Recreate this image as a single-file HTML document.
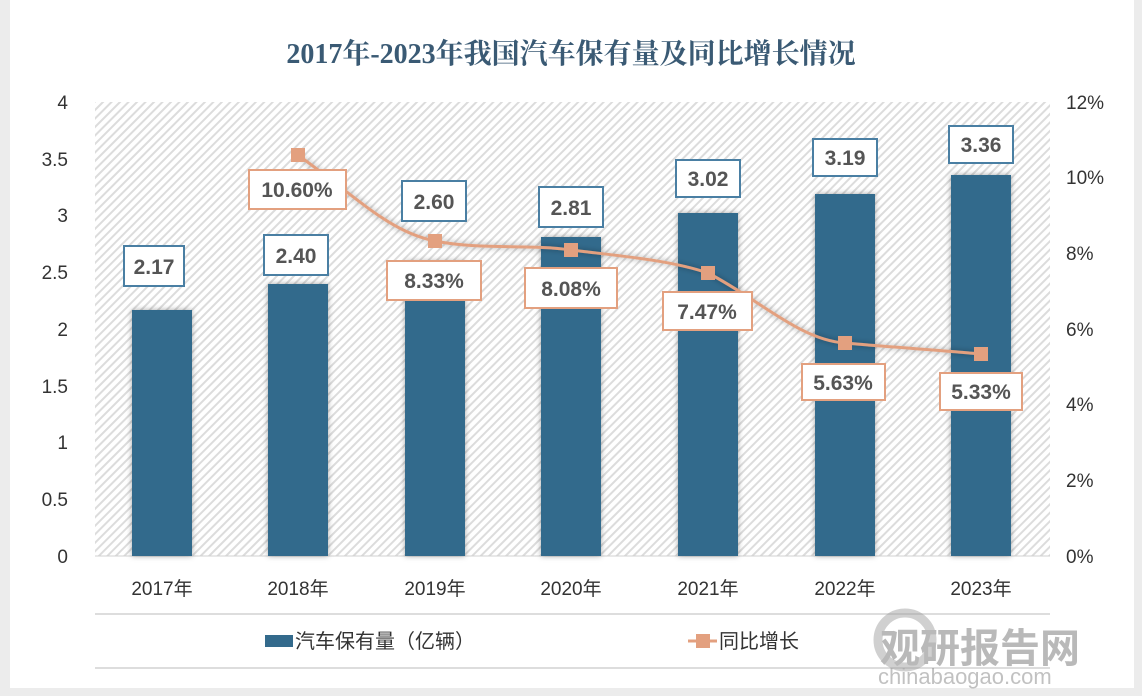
<!DOCTYPE html>
<html><head><meta charset="utf-8"><style>
body{margin:0;background:#ececec;overflow:hidden;}
svg{display:block;}
svg text{font-family:"Liberation Sans","Noto Sans CJK SC",sans-serif;}
</style></head><body>
<svg width="1142" height="696" viewBox="0 0 1142 696" xmlns="http://www.w3.org/2000/svg">
<defs>
<pattern id="hat" width="6" height="6" patternUnits="userSpaceOnUse" patternTransform="rotate(45)">
<rect width="6" height="6" fill="#fff"/><rect width="2" height="6" fill="#dcdcdc"/></pattern>
<filter id="sh" x="-20%" y="-20%" width="140%" height="140%"><feDropShadow dx="0" dy="0" stdDeviation="3" flood-color="#000" flood-opacity="0.35"/></filter>
</defs>
<rect x="10" y="0" width="1124" height="688" fill="#fff"/>
<text x="571" y="63" text-anchor="middle" font-size="28" font-weight="bold" fill="#3a5a74" style="font-family:'Liberation Serif','Noto Serif CJK SC',serif">2017年-2023年我国汽车保有量及同比增长情况</text>
<rect x="95" y="102" width="955" height="454" fill="url(#hat)"/>
<line x1="95" y1="556" x2="1050" y2="556" stroke="#d0d0d0"/>
<g font-size="19" fill="#333" text-anchor="end">
<text x="68" y="109">4</text><text x="68" y="166">3.5</text><text x="68" y="222">3</text><text x="68" y="279">2.5</text><text x="68" y="336">2</text><text x="68" y="393">1.5</text><text x="68" y="449">1</text><text x="68" y="506">0.5</text><text x="68" y="563">0</text>
</g>
<g font-size="19" fill="#333" text-anchor="start">
<text x="1066" y="109">12%</text><text x="1066" y="184">10%</text><text x="1066" y="260">8%</text><text x="1066" y="336">6%</text><text x="1066" y="411">4%</text><text x="1066" y="487">2%</text><text x="1066" y="563">0%</text>
</g>
<g fill="#336a8c" filter="url(#sh)">
<rect x="132" y="310" width="60" height="246"/>
<rect x="268" y="284" width="60" height="272"/>
<rect x="405" y="261" width="60" height="295"/>
<rect x="541" y="237" width="60" height="319"/>
<rect x="678" y="213" width="60" height="343"/>
<rect x="815" y="194" width="60" height="362"/>
<rect x="951" y="175" width="60" height="381"/>
</g>
<g font-size="19" fill="#333" text-anchor="middle">
<text x="162" y="595">2017年</text><text x="298" y="595">2018年</text><text x="435" y="595">2019年</text><text x="571" y="595">2020年</text><text x="708" y="595">2021年</text><text x="845" y="595">2022年</text><text x="981" y="595">2023年</text>
</g>
<path d="M298,155 C360,200 390,232 435,241 C480,250 530,244 571,250 C620,256 670,260 708,273 C760,300 800,340 845,343 C900,348 940,350 981,354" fill="none" stroke="#e3a07f" stroke-width="3" filter="url(#sh)"/>
<g fill="#e3a07f">
<rect x="291" y="148" width="14" height="14"/><rect x="428" y="234" width="14" height="14"/><rect x="564" y="243" width="14" height="14"/><rect x="701" y="266" width="14" height="14"/><rect x="838" y="336" width="14" height="14"/><rect x="974" y="347" width="14" height="14"/>
</g>
<g font-size="21" font-weight="bold" fill="#555" text-anchor="middle">
<g fill="#fff" stroke="#4a7fa3" stroke-width="2">
<rect x="124" y="246" width="60" height="40"/><rect x="264" y="235" width="64" height="40"/><rect x="402" y="181" width="64" height="40"/><rect x="539" y="187" width="64" height="40"/><rect x="676" y="160" width="64" height="37"/><rect x="813" y="139" width="64" height="37"/><rect x="949" y="126" width="64" height="37"/>
</g>
<g fill="#fff" stroke="#e3a07f" stroke-width="2">
<rect x="249" y="170" width="97" height="39"/><rect x="387" y="261" width="94" height="39"/><rect x="525" y="268" width="92" height="40"/><rect x="663" y="292" width="89" height="38"/><rect x="802" y="364" width="83" height="36"/><rect x="940" y="373" width="82" height="37"/>
</g>
<text x="154" y="274">2.17</text><text x="296" y="263">2.40</text><text x="434" y="209">2.60</text><text x="571" y="215">2.81</text><text x="708" y="186">3.02</text><text x="845" y="165">3.19</text><text x="981" y="152">3.36</text>
<text x="297" y="197">10.60%</text><text x="434" y="288">8.33%</text><text x="571" y="296">8.08%</text><text x="707" y="319">7.47%</text><text x="843" y="390">5.63%</text><text x="981" y="399">5.33%</text>
</g>
<line x1="95" y1="614" x2="1050" y2="614" stroke="#ddd" stroke-width="2"/>
<line x1="95" y1="668" x2="1050" y2="668" stroke="#ddd" stroke-width="2"/>
<rect x="265" y="635" width="28" height="12" fill="#336a8c"/>
<text x="295" y="648" font-size="20" fill="#333">汽车保有量（亿辆）</text>
<line x1="688" y1="641" x2="717" y2="641" stroke="#e3a07f" stroke-width="3"/>
<rect x="696" y="634" width="14" height="14" fill="#e3a07f"/>
<text x="719" y="648" font-size="20" fill="#333">同比增长</text>
<g opacity="0.45">
<circle cx="905" cy="640" r="27" fill="none" stroke="#999" stroke-width="9"/>
<text x="880" y="662" font-size="40" font-weight="bold" fill="#666">观研报告网</text>
<text x="878" y="684" font-size="22" fill="#777">chinabaogao.com</text>
</g>
</svg>
</body></html>
